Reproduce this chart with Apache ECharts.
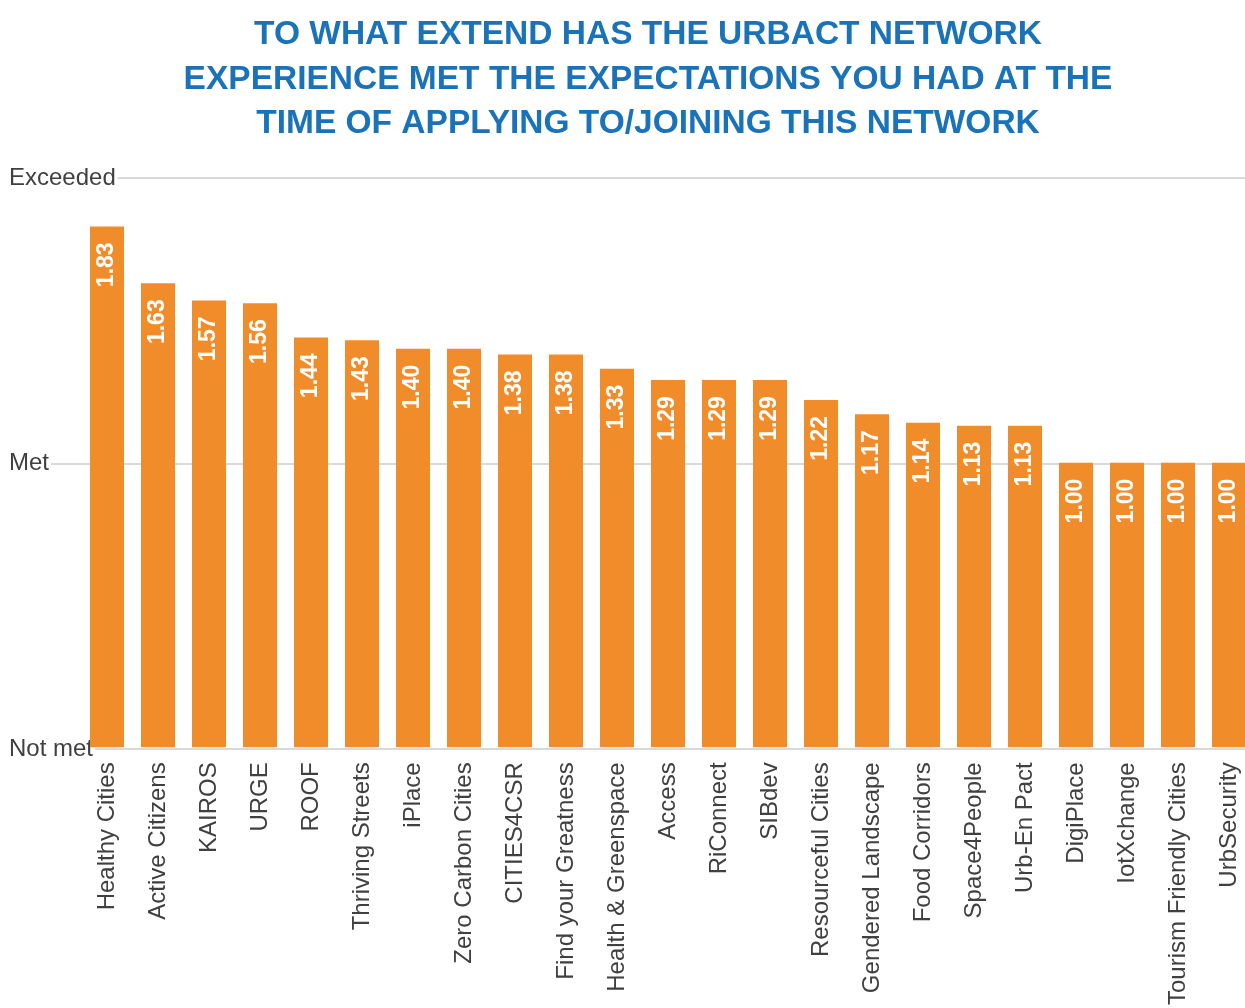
<!DOCTYPE html>
<html>
<head>
<meta charset="utf-8">
<script src="https://cdn.jsdelivr.net/npm/echarts@6/dist/echarts.min.js"></script>
<style>
html,body{margin:0;padding:0;background:#fff;}
#chart{width:1245px;height:1008px;}
</style>
</head>
<body>
<div id="chart"></div>
<script>
const titleLines = [
  'TO WHAT EXTEND HAS THE URBACT NETWORK',
  'EXPERIENCE MET THE EXPECTATIONS YOU HAD AT THE',
  'TIME OF APPLYING TO/JOINING THIS NETWORK'
];
const categories = ['Healthy Cities','Active Citizens','KAIROS','URGE','ROOF','Thriving Streets','iPlace','Zero Carbon Cities','CITIES4CSR','Find your Greatness','Health & Greenspace','Access','RiConnect','SIBdev','Resourceful Cities','Gendered Landscape','Food Corridors','Space4People','Urb-En Pact','DigiPlace','IotXchange','Tourism Friendly Cities','UrbSecurity'];
const values = [1.83,1.63,1.57,1.56,1.44,1.43,1.40,1.40,1.38,1.38,1.33,1.29,1.29,1.29,1.22,1.17,1.14,1.13,1.13,1.00,1.00,1.00,1.00];
const yTickLabels = ['Not met','Met','Exceeded'];

const chart = echarts.init(document.getElementById('chart'));
chart.setOption({
  animation: false,
  backgroundColor: '#fff',
  title: {
    text: titleLines.join('\n'),
    left: 643,
    textAlign: 'center',
    top: 8,
    textStyle: {
      fontFamily: 'Liberation Sans, Arial, sans-serif',
      fontWeight: 'bold',
      fontSize: 33.5,
      lineHeight: 44.5,
      color: '#1a73b9'
    }
  },
  grid: [
    {left: 107, top: 178, width: 1122, height: 571},
    {left: 9, right: 0, top: 178, height: 571}
  ],
  xAxis: [
    {
      type: 'category', gridIndex: 0, data: categories, boundaryGap: false,
      axisLine: {show: false}, axisTick: {show: false},
      axisLabel: {
        rotate: 90, interval: 0, margin: 15,
        color: '#404040', fontSize: 24,
        fontFamily: 'Liberation Sans, Arial, sans-serif'
      }
    },
    {type: 'value', gridIndex: 1, min: 0, max: 1, show: false}
  ],
  yAxis: [
    {type: 'value', gridIndex: 0, min: 0, max: 2, interval: 1, show: false},
    {
      type: 'value', gridIndex: 1, min: 0, max: 2, interval: 1,
      axisLine: {show: false}, axisTick: {show: false},
      splitLine: {show: true, lineStyle: {color: '#d9d9d9', width: 2}},
      axisLabel: {
        inside: true, margin: 0,
        color: '#404040', fontSize: 24,
        fontFamily: 'Liberation Sans, Arial, sans-serif',
        backgroundColor: '#fff', padding: [0, 2, 0, 0],
        formatter: function (v) { return yTickLabels[Math.round(v)]; }
      }
    }
  ],
  series: [{
    type: 'bar',
    xAxisIndex: 0, yAxisIndex: 0,
    data: values,
    barWidth: 34,
    clip: false,
    itemStyle: {color: '#f08d2a'},
    label: {
      show: true,
      position: 'insideTop',
      rotate: 90,
      align: 'right',
      verticalAlign: 'middle',
      distance: 16,
      color: '#fff',
      fontWeight: 'bold',
      fontSize: 23,
      fontFamily: 'Liberation Sans, Arial, sans-serif',
      formatter: function (p) { return p.value.toFixed(2); }
    }
  }]
});
</script>
</body>
</html>
